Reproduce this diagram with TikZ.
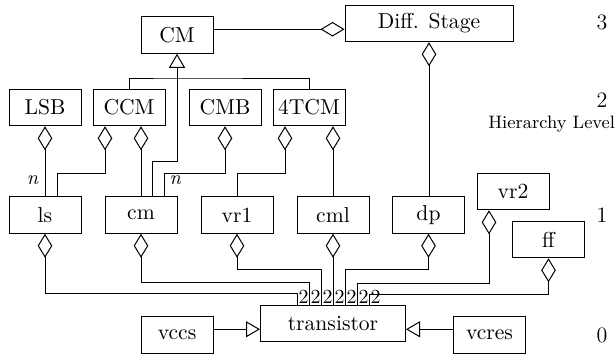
\documentclass[tikz,border=0pt]{standalone}
\usetikzlibrary{arrows.meta,calc}
\tikzset{
	cls/.style={draw, line width=0.5pt, minimum width=36pt, minimum height=18.25pt, inner sep=0pt, font=\fontsize{10.8}{13}\selectfont},
	agg/.style={{Diamond[open,length=12pt,width=7.3pt]}-, line width=0.5pt},
	gen/.style={-{Triangle[open,length=7pt,width=8pt]}, line width=0.5pt},
	lvl/.style={inner sep=0pt, font=\fontsize{11}{13}\selectfont},
	mul/.style={inner sep=0.5pt, font=\fontsize{10}{12}\selectfont}
}

\begin{document}
\begin{tikzpicture}[x=0.5pt,y=-0.5pt]
			\useasboundingbox (0,0) rectangle (616,355);
			% level 3
			\node [cls] (CM) at (177,35) {CM};
			\node [cls, minimum width=84pt] (DS) at (429,23.5) {Diff. Stage};
			% level 2
			\node [cls] (LSB) at (45,107.5) {LSB};
			\node [cls] (CCM) at (129,107.5) {CCM};
			\node [cls] (CMB) at (225,107.5) {CMB};
			\node [cls] (TCM) at (309,107.5) {4TCM};
			% level 1
			\node [cls] (ls) at (45,215) {ls};
			\node [cls] (cm) at (141,215) {cm};
			\node [cls] (vr1) at (237,215) {vr1};
			\node [cls] (cml) at (333,215) {cml};
			\node [cls] (dp) at (428.5,215) {dp};
			\node [cls] (vr2) at (513,191.5) {vr2};
			\node [cls] (ff) at (548.5,239.5) {ff};
			% level 0
			\node [cls, minimum width=72.5pt] (tr) at (333,323.5) {transistor};
			\node [cls] (vccs) at (177,335) {vccs};
			\node [cls] (vcres) at (489.5,335) {vcres};
			% hierarchy levels
			\node [lvl] (l3) at (602,22) {3};
			\node [lvl] (l2) at (602,100) {2};
			\node [lvl, anchor=east, font=\fontsize{9}{11}\selectfont] (hl) at (615.5,124) {Hierarchy Level};
			\node [lvl] (l1) at (602,215) {1};
			\node [lvl] (l0) at (602,335) {0};
			% CM and Diff. Stage
			\coordinate (m3) at ($(CM.east)!.5!(DS.west)$);
			\draw [agg] (DS.west |- m3) -- (CM.east |- m3);
			% inheritance from CM
			\draw [gen] ($(cm.north)+(11,0)$) -- ++(0,-35) -| (CM.south);
			\draw [line width=0.5pt] (CCM.north) |- (177,78) -| (TCM.north);
			% aggregation, level 2 to level 1
			\draw [agg] (LSB.south) -- (ls.north) node [mul, pos=0.77, left=2.5pt] {\textit{n}};
			\draw [agg] ($(CCM.south)+(-24,0)$) -- ++(0,47) -| ($(ls.north)+(12,0)$);
			\draw [agg] ($(CCM.south)+(12,0)$) -- (cm.north);
			\draw [agg] (CMB.south) -- ++(0,47) -| ($(cm.north)+(23,0)$) node [mul, pos=0.65, right=2pt] {\textit{n}};
			\draw [agg] ($(TCM.south)+(-24,0)$) -- ++(0,47) -| (vr1.north);
			\draw [agg] ($(TCM.south)+(24,0)$) -- (cml.north);
			\draw [agg] (DS.south) -- (DS.south |- dp.north);
			% aggregation, level 1 to transistor
			\draw [agg] (ls.south) -- ++(0,60) -| ($(tr.north)+(-36,0)$) node [mul, anchor=south west] {2};
			\draw [agg] (cm.south) -- ++(0,49) -| ($(tr.north)+(-24,0)$) node [mul, anchor=south west] {2};
			\draw [agg] (vr1.south) -- ++(0,36) -| ($(tr.north)+(-12,0)$) node [mul, anchor=south west] {2};
			\draw [agg] (cml.south) -- (tr.north) node [mul, anchor=south west] {2};
			\draw [agg] (dp.south) -- ++(0,36) -| ($(tr.north)+(12,0)$) node [mul, anchor=south west] {2};
			\draw [agg] ($(vr2.south)+(-24,0)$) -- ++(0,73) -| ($(tr.north)+(24,0)$) node [mul, anchor=south west] {2};
			\draw [agg] (ff.south) -- ++(0,36) -| ($(tr.north)+(36,0)$) node [mul, anchor=south west] {2};
			% inheritance into transistor
			\coordinate (m0) at ($(vccs.east)!.5!(tr.west)$);
			\draw [gen] (vccs.east |- m0) -- (tr.west |- m0);
			\coordinate (m1) at ($(vcres.west)!.5!(tr.east)$);
			\draw [gen] (vcres.west |- m1) -- (tr.east |- m1);
\end{tikzpicture}
\end{document}
